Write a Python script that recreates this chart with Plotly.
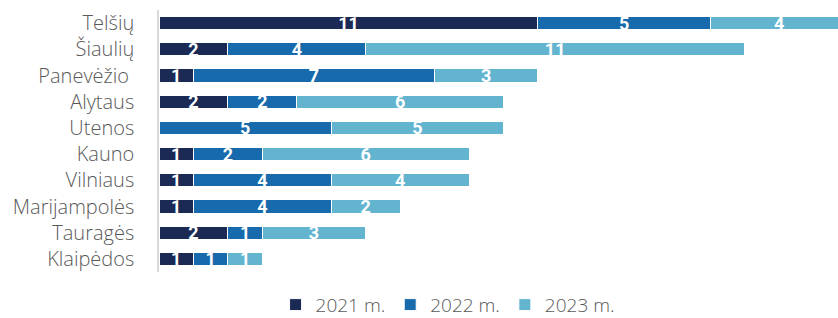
import plotly.graph_objects as go

categories = ["Telšių", "Šiaulių", "Panevėžio ", "Alytaus", "Utenos", "Kauno",
              "Vilniaus", "Marijampolės", "Tauragės", "Klaipėdos"]
y2021 = [11, 2, 1, 2, 0, 1, 1, 1, 2, 1]
y2022 = [5, 4, 7, 2, 5, 2, 4, 4, 1, 1]
y2023 = [4, 11, 3, 6, 5, 6, 4, 2, 3, 1]
series_names = ["2021 m.", "2022 m.", "2023 m."]
colors = ["#1b2a55", "#176aab", "#63b4cf"]

fig = go.Figure()
for name, vals, col in zip(series_names, [y2021, y2022, y2023], colors):
    fig.add_trace(go.Bar(
        y=categories, x=vals, name=name, orientation="h",
        marker=dict(color=col, line=dict(color="white", width=1)),
        text=[str(v) if v else "" for v in vals],
        textposition="inside", insidetextanchor="middle", textangle=0,
        textfont=dict(color="white", size=18, family="Roboto", weight="bold"),
        constraintext="none", width=0.5,
    ))

fig.update_layout(
    barmode="stack",
    width=838, height=318,
    margin=dict(l=159, r=0, t=10, b=46, autoexpand=False),
    plot_bgcolor="white", paper_bgcolor="white",
    uniformtext=dict(mode="show", minsize=10),
    font=dict(family="Open Sans", color="#595959"),
    xaxis=dict(range=[0, 19.71], visible=False, showgrid=False),
    yaxis=dict(categoryorder="array", categoryarray=categories, autorange="reversed",
               showline=True, linecolor="#d9d9d9", linewidth=1.5, automargin=False,
               tickfont=dict(size=20, family="Open Sans", color="#595959", weight=300),
               ticks="", ticklabelstandoff=19, showgrid=False),
    legend=dict(orientation="h", x=0.425, xanchor="center", y=-0.125, yanchor="middle",
                traceorder="normal",
                font=dict(size=19, family="Open Sans", color="#595959", weight=300),
                itemwidth=30, tracegroupgap=0),
    showlegend=True,
)
fig.write_html("out.html", post_script="document.body.style.margin='0';",
               config={"displayModeBar": False})
